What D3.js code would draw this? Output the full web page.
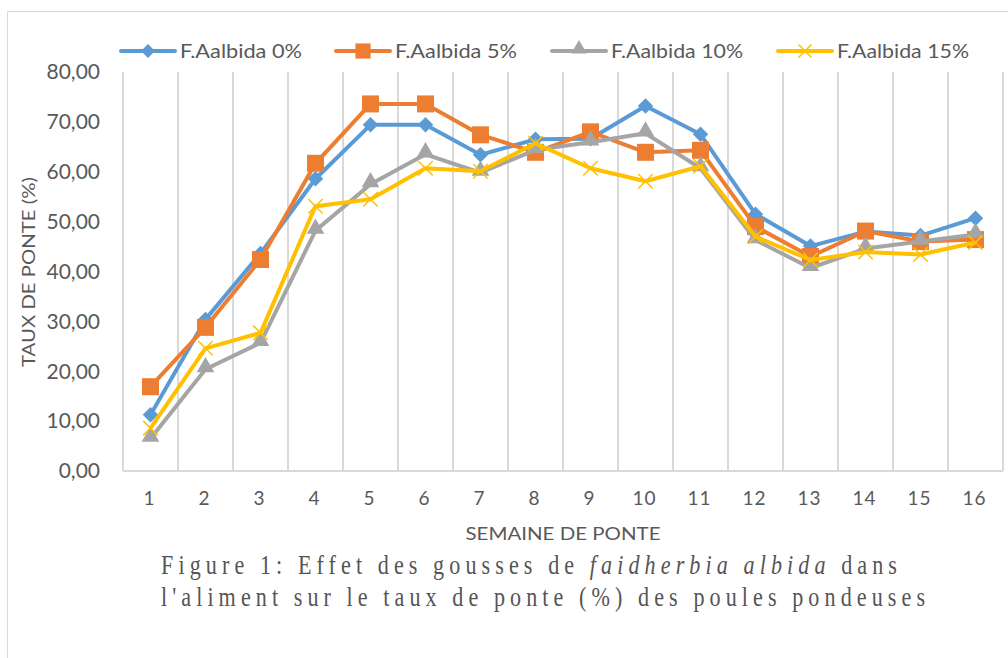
<!DOCTYPE html>
<html>
<head>
<meta charset="utf-8">
<script src="https://cdn.jsdelivr.net/npm/d3@7"></script>
<style>
	body { margin: 0; background: #fff; }
	svg { display: block; }
</style>
</head>
<body>
<div id="chart"></div>
<script>

// weeks on the x axis
var weeks = ["1", "2", "3", "4", "5", "6", "7", "8", "9", "10", "11", "12", "13", "14", "15", "16"];

// laying rate (%) per treatment
var dose0  = [11.3, 30.4, 43.6, 58.6, 69.4, 69.4, 63.4, 66.5, 66.6, 73.2, 67.5, 51.5, 45.1, 48.0, 47.2, 50.7];
var dose5  = [16.9, 28.8, 42.4, 61.7, 73.6, 73.6, 67.4, 63.9, 68.0, 63.9, 64.3, 49.0, 43.0, 48.1, 46.0, 46.4];
var dose10 = [6.5, 20.4, 25.7, 48.2, 57.5, 63.5, 59.8, 64.4, 65.9, 67.7, 60.7, 46.3, 40.7, 44.6, 46.0, 47.4];
var dose15 = [8.6, 24.6, 27.7, 53.1, 54.5, 60.7, 60.1, 65.7, 60.7, 58.1, 61.1, 47.0, 42.3, 43.9, 43.4, 45.8];

var seriesNames = ["F.Aalbida 0%", "F.Aalbida 5%", "F.Aalbida 10%", "F.Aalbida 15%"];
var yTicks = [0, 10, 20, 30, 40, 50, 60, 70, 80];

var colors = ["#5b9bd5", "#ed7d31", "#a5a5a5", "#ffc000"];

// custom "x" marker drawn with strokes
var symbolCrossX = {
	draw: function(context, size) {
		var r = Math.sqrt(size) / 2;
		context.moveTo(-r, -r);
		context.lineTo(r, r);
		context.moveTo(r, -r);
		context.lineTo(-r, r);
	}
};

// diamond as a rotated square so width and height match
var symbolRhombus = {
	draw: function(context, size) {
		var r = Math.sqrt(size) / 2;
		context.moveTo(0, -r);
		context.lineTo(r, 0);
		context.lineTo(0, r);
		context.lineTo(-r, 0);
		context.closePath();
	}
};

var markers = [
	{ type: symbolRhombus, size: 240, stroke: false },
	{ type: d3.symbolSquare, size: 289, stroke: false },
	{ type: d3.symbolTriangle, size: 135, stroke: false },
	{ type: symbolCrossX, size: 210, stroke: true }
];

var series = [dose0, dose5, dose10, dose15].map(function(values, i) {
	return { name: seriesNames[i], values: values, color: colors[i], marker: markers[i] };
});

var W = 1008, H = 658;
var margin = { left: 123, right: 5, top: 72, bottom: 187 };

var svg = d3.select("#chart").append("svg")
	.attr("width", W)
	.attr("height", H);

// chart frame (only left and top edges are visible in the crop)
svg.append("path")
	.attr("d", "M7.5," + H + "V11.5H" + W)
	.attr("fill", "none")
	.attr("stroke", "#d9d9d9")
	.attr("stroke-width", 1);

var x = d3.scaleBand()
	.domain(weeks)
	.range([margin.left, W - margin.right]);

var y = d3.scaleLinear()
	.domain([0, 80])
	.range([H - margin.bottom, margin.top]);

var textColor = "#595959";
var sansFont = "Lato, 'Open Sans', sans-serif";

// vertical gridlines at band edges
var edges = weeks.map(function(w) { return x(w); }).concat([x.range()[1]]);
svg.append("g")
	.attr("class", "grid")
	.selectAll("line")
	.data(edges)
	.enter()
	.append("line")
	.attr("x1", function(d) { return d; })
	.attr("x2", function(d) { return d; })
	.attr("y1", y(80))
	.attr("y2", y(0))
	.attr("stroke", "#d9d9d9")
	.attr("stroke-width", 2);

// baseline
svg.append("line")
	.attr("x1", x.range()[0])
	.attr("x2", x.range()[1])
	.attr("y1", y(0))
	.attr("y2", y(0))
	.attr("stroke", "#d9d9d9")
	.attr("stroke-width", 2);

// y axis labels
var fmt = function(v) { return d3.format(".2f")(v).replace(".", ","); };
svg.append("g")
	.selectAll("text")
	.data(yTicks)
	.enter()
	.append("text")
	.attr("x", 100)
	.attr("y", function(d) { return y(d); })
	.attr("dy", "0.35em")
	.attr("text-anchor", "end")
	.attr("fill", textColor)
	.style("font-family", sansFont)
	.style("font-size", "21px")
	.text(fmt);

// x axis labels
svg.append("g")
	.selectAll("text")
	.data(weeks)
	.enter()
	.append("text")
	.attr("x", function(d) { return x(d) + x.bandwidth() / 2 - 1; })
	.attr("y", 498)
	.attr("dy", "0.35em")
	.attr("text-anchor", "middle")
	.attr("fill", textColor)
	.style("font-family", sansFont)
	.style("font-size", "19px")
	.style("letter-spacing", "1px")
	.text(function(d) { return d; });

// axis titles
svg.append("text")
	.attr("transform", "translate(29,272)rotate(-90)")
	.attr("dy", "0.35em")
	.attr("text-anchor", "middle")
	.attr("fill", textColor)
	.style("font-family", sansFont)
	.style("font-size", "18px")
	.attr("textLength", 190)
	.attr("lengthAdjust", "spacingAndGlyphs")
	.text("TAUX DE PONTE (%)");

svg.append("text")
	.attr("x", 563)
	.attr("y", 534)
	.attr("dy", "0.35em")
	.attr("text-anchor", "middle")
	.attr("fill", textColor)
	.style("font-family", sansFont)
	.style("font-size", "18px")
	.attr("textLength", 195)
	.attr("lengthAdjust", "spacingAndGlyphs")
	.text("SEMAINE DE PONTE");

// lines and markers
var line = d3.line()
	.x(function(d, i) { return x(weeks[i]) + x.bandwidth() / 2; })
	.y(function(d) { return y(d); });

var groups = svg.selectAll(".series")
	.data(series)
	.enter()
	.append("g")
	.attr("class", "series");

groups.append("path")
	.attr("d", function(s) { return line(s.values); })
	.attr("fill", "none")
	.attr("stroke", function(s) { return s.color; })
	.attr("stroke-width", 4)
	.attr("stroke-linejoin", "round");

groups.each(function(s) {
	var sym = d3.symbol().type(s.marker.type).size(s.marker.size);
	d3.select(this).selectAll(".mark")
		.data(s.values)
		.enter()
		.append("path")
		.attr("class", "mark")
		.attr("transform", function(d, i) {
			var dy = s.marker.type === d3.symbolTriangle ? -2 : 0;
			return "translate(" + (x(weeks[i]) + x.bandwidth() / 2) + "," + (y(d) + dy) + ")";
		})
		.attr("d", sym)
		.attr("fill", s.marker.stroke ? "none" : s.color)
		.attr("stroke", s.marker.stroke ? s.color : "none")
		.attr("stroke-width", 1.5);
});

// legend
var legendX = [121, 336, 552, 778];
var legendLen = [122, 122, 132, 132];
var legend = svg.selectAll(".legend")
	.data(series)
	.enter()
	.append("g")
	.attr("class", "legend")
	.attr("transform", function(s, i) { return "translate(" + legendX[i] + ",51)"; });

legend.append("line")
	.attr("x1", 0)
	.attr("x2", 54)
	.attr("stroke", function(s) { return s.color; })
	.attr("stroke-width", 4)
	.attr("stroke-linecap", "round");

legend.append("path")
	.attr("transform", function(s) {
		return "translate(27," + (s.marker.type === d3.symbolTriangle ? -2 : 0) + ")";
	})
	.attr("d", function(s) { return d3.symbol().type(s.marker.type).size(s.marker.size * 0.8)(); })
	.attr("fill", function(s) { return s.marker.stroke ? "none" : s.color; })
	.attr("stroke", function(s) { return s.marker.stroke ? s.color : "none"; })
	.attr("stroke-width", 1.5);

legend.append("text")
	.attr("x", 59)
	.attr("dy", "0.35em")
	.attr("fill", textColor)
	.style("font-family", sansFont)
	.style("font-size", "20px")
	.attr("textLength", function(s, i) { return legendLen[i]; })
	.attr("lengthAdjust", "spacingAndGlyphs")
	.text(function(s) { return s.name; });

// caption: tall, narrow serif glyphs with wide tracking
var hScale = 0.82;
var caption = svg.append("g")
	.attr("transform", "translate(161,0) scale(" + hScale + ",1)")
	.attr("fill", "#555555")
	.style("font-family", "'Liberation Serif', 'Times New Roman', serif")
	.style("font-size", "27px");

var l1 = caption.append("text")
	.attr("x", 0)
	.attr("y", 574)
	.attr("textLength", 736 / hScale)
	.attr("lengthAdjust", "spacing");
l1.append("tspan").text("Figure 1: Effet des gousses de ");
l1.append("tspan").style("font-style", "italic").text("faidherbia albida");
l1.append("tspan").text(" dans");

caption.append("text")
	.attr("x", 0)
	.attr("y", 606)
	.attr("textLength", 764 / hScale)
	.attr("lengthAdjust", "spacing")
	.text("l'aliment sur le taux de ponte (%) des poules pondeuses");

</script>
</body>
</html>
